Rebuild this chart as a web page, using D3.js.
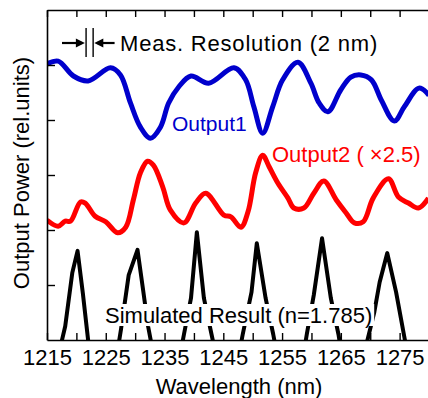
<!DOCTYPE html>
<html>
<head>
<meta charset="utf-8">
<script src="https://cdn.jsdelivr.net/npm/d3@7"></script>
<style>
  body { margin: 0; background: #fff; }
  svg { display: block; font-family: "Liberation Sans", Arial, sans-serif; }
</style>
</head>
<body>
<div id="chart"></div>
<script>
// measured output 1 (blue)
const blueWl = [1215.0, 1216.9, 1219.5, 1222.0, 1225.8, 1227.5, 1229.2, 1230.9, 1232.6, 1234.3, 1235.7, 1237.4, 1239.5, 1242.5, 1246.8, 1248.8, 1250.2, 1251.7, 1253.4, 1255.1, 1257.7, 1259.9, 1261.3, 1262.8, 1265.0, 1266.7, 1268.4, 1270.2, 1271.9, 1274.1, 1275.8, 1278.3, 1280.0];
const blueVal = [5.02, 5.07, 4.80, 4.71, 4.95, 4.82, 4.31, 3.87, 3.67, 3.87, 4.31, 4.60, 4.80, 4.67, 4.95, 4.73, 4.24, 3.76, 4.24, 4.73, 5.05, 4.67, 4.31, 4.15, 4.55, 4.78, 4.82, 4.73, 4.36, 3.98, 4.24, 4.58, 4.45];

// measured output 2 (red, x2.5)
const redWl = [1215.0, 1216.9, 1218.1, 1219.0, 1220.7, 1221.5, 1223.2, 1225.0, 1227.0, 1228.4, 1229.7, 1230.9, 1232.1, 1233.1, 1234.7, 1236.0, 1238.3, 1240.3, 1242.0, 1245.1, 1246.3, 1248.0, 1249.2, 1250.5, 1251.7, 1252.8, 1254.3, 1256.0, 1257.0, 1258.7, 1260.4, 1262.1, 1264.2, 1265.9, 1267.3, 1268.8, 1270.5, 1273.1, 1274.8, 1276.5, 1278.2, 1279.9];
const redVal = [2.18, 2.07, 2.16, 2.16, 2.51, 2.49, 2.25, 2.15, 1.95, 2.05, 2.55, 3.04, 3.25, 3.18, 2.78, 2.36, 2.13, 2.49, 2.67, 2.27, 2.24, 2.05, 2.33, 3.04, 3.36, 3.15, 2.85, 2.58, 2.40, 2.40, 2.67, 2.89, 2.55, 2.31, 2.13, 2.15, 2.58, 2.93, 2.60, 2.49, 2.40, 2.58];

// simulated result (black), goes below the axis between peaks
const simWl = [1215, 1216.9, 1218.1, 1219.3, 1220.2, 1221.1, 1222.1, 1224.5, 1227.0, 1227.6, 1228.9, 1230.4, 1231.3, 1232.2, 1233.0, 1235.5, 1237.6, 1238.3, 1239.5, 1240.5, 1241.7, 1243.0, 1243.8, 1246, 1247.6, 1248.3, 1249.8, 1250.7, 1252.2, 1253.5, 1254.2, 1257, 1258.6, 1259.2, 1260.4, 1261.8, 1263.3, 1264.6, 1265.2, 1268.5, 1269.3, 1270.7, 1271.6, 1272.9, 1274.4, 1275.9, 1277, 1280];
const simVal = [-0.6, -0.3, 0.25, 1.22, 1.62, 0.85, -0.1, -0.6, -0.2, 0.2, 1.18, 1.64, 0.95, 0.25, -0.2, -0.6, -0.3, 0.1, 0.76, 1.96, 0.76, 0.1, -0.3, -0.6, -0.3, 0.1, 0.87, 1.76, 0.76, 0.1, -0.3, -0.6, -0.3, 0.1, 0.82, 1.85, 0.76, 0.1, -0.3, -0.6, -0.1, 0.51, 1.05, 1.58, 0.87, 0.0, -0.4, -0.6];

const xTicks = d3.range(1215, 1280, 5);
const xLabels = [1215, 1225, 1235, 1245, 1255, 1265, 1275];
const yTicks = [1, 2, 3, 4, 5];

const W = 428, H = 398;
const mLeft = 47, mRight = 429, mTop = 10, mBottom = 340;

const svg = d3.select("#chart").append("svg")
  .attr("width", W)
  .attr("height", H);

const x = d3.scaleLinear().domain([1215, 1280]).range([mLeft, mRight]);
const y = d3.scaleLinear().domain([0, 6]).range([mBottom, mTop]);

svg.append("clipPath").attr("id", "plot")
  .append("rect")
  .attr("x", mLeft).attr("y", mTop)
  .attr("width", mRight - mLeft).attr("height", mBottom - mTop);

function zip(a, b) { return a.map((d, i) => [d, b[i]]); }

const smooth = d3.line().x(d => x(d[0])).y(d => y(d[1])).curve(d3.curveCatmullRom.alpha(0.5));
const straight = d3.line().x(d => x(d[0])).y(d => y(d[1]));

const lines = svg.append("g").attr("clip-path", "url(#plot)");

lines.append("path")
  .attr("d", straight(zip(simWl, simVal)))
  .attr("fill", "none").attr("stroke", "#000").attr("stroke-width", 4)
  .attr("stroke-linejoin", "round");

lines.append("path")
  .attr("d", smooth(zip(redWl, redVal)))
  .attr("fill", "none").attr("stroke", "#ff0000").attr("stroke-width", 5)
  .attr("stroke-linejoin", "round");

lines.append("path")
  .attr("d", smooth(zip(blueWl, blueVal)))
  .attr("fill", "none").attr("stroke", "#0000cc").attr("stroke-width", 5)
  .attr("stroke-linejoin", "round");

// axes, ticks pointing inward
const fmt = d => xLabels.includes(d) ? d : "";

const gx = svg.append("g")
  .attr("transform", "translate(0," + mBottom + ")")
  .call(d3.axisBottom(x).tickValues(xTicks).tickFormat(fmt).tickSizeInner(-7).tickSizeOuter(0).tickPadding(9));

svg.append("g")
  .attr("transform", "translate(0," + mTop + ")")
  .call(d3.axisTop(x).tickValues(xTicks).tickFormat("").tickSizeInner(-7).tickSizeOuter(0));

svg.append("g")
  .attr("transform", "translate(" + mLeft + ",0)")
  .call(d3.axisLeft(y).tickValues(yTicks).tickFormat("").tickSizeInner(-8).tickSizeOuter(0));

svg.selectAll(".domain").attr("stroke", "#000").attr("stroke-width", 1.6);
svg.selectAll(".tick line").attr("stroke", "#000").attr("stroke-width", 1.4);
gx.selectAll("text").attr("font-size", 22).attr("fill", "#000")
  .attr("font-family", "'Liberation Sans', Arial, sans-serif");

// axis titles
svg.append("text")
  .attr("x", (mLeft + mRight) / 2 + 1).attr("y", 394)
  .attr("text-anchor", "middle").attr("font-size", 22)
  .text("Wavelength (nm)");

svg.append("text")
  .attr("transform", "translate(29,173) rotate(-90)")
  .attr("text-anchor", "middle").attr("font-size", 22)
  .text("Output Power (rel.units)");

// series labels
svg.append("text")
  .attr("x", 172).attr("y", 131)
  .attr("font-size", 21).attr("fill", "#0000cc")
  .text("Output1");

svg.append("text")
  .attr("x", 272).attr("y", 162)
  .attr("font-size", 22).attr("fill", "#ff0000")
  .text("Output2 ( \u00d72.5)");

const sim = svg.append("g");
const simText = sim.append("text")
  .attr("x", 105).attr("y", 323)
  .attr("font-size", 22)
  .text("Simulated Result (n=1.785)");
const bb = simText.node().getBBox();
sim.insert("rect", "text")
  .attr("x", bb.x - 2).attr("y", bb.y + 1)
  .attr("width", bb.width + 4).attr("height", bb.height - 3)
  .attr("fill", "#fff");

// resolution annotation
const arrowY = 43;
const ann = svg.append("g").attr("stroke", "#000");
ann.append("line")
  .attr("x1", x(1221.65)).attr("x2", x(1221.65)).attr("y1", 28).attr("y2", 57)
  .attr("stroke-width", 1.4);
ann.append("line")
  .attr("x1", x(1222.85)).attr("x2", x(1222.85)).attr("y1", 28).attr("y2", 57)
  .attr("stroke-width", 1.4);
ann.append("line")
  .attr("x1", x(1217.55)).attr("x2", x(1221.0)).attr("y1", arrowY).attr("y2", arrowY)
  .attr("stroke-width", 2.2);
ann.append("line")
  .attr("x1", x(1226.5)).attr("x2", x(1223.5)).attr("y1", arrowY).attr("y2", arrowY)
  .attr("stroke-width", 2.2);
const tipR = x(1221.45), tipL = x(1223.05);
svg.append("path")
  .attr("d", `M${tipR},${arrowY} L${tipR - 9},${arrowY - 4.5} L${tipR - 9},${arrowY + 4.5} Z`)
  .attr("fill", "#000");
svg.append("path")
  .attr("d", `M${tipL},${arrowY} L${tipL + 9},${arrowY - 4.5} L${tipL + 9},${arrowY + 4.5} Z`)
  .attr("fill", "#000");

svg.append("text")
  .attr("x", 120).attr("y", 51)
  .attr("font-size", 22).attr("letter-spacing", 0.8)
  .text("Meas. Resolution (2 nm)");
</script>
</body>
</html>
